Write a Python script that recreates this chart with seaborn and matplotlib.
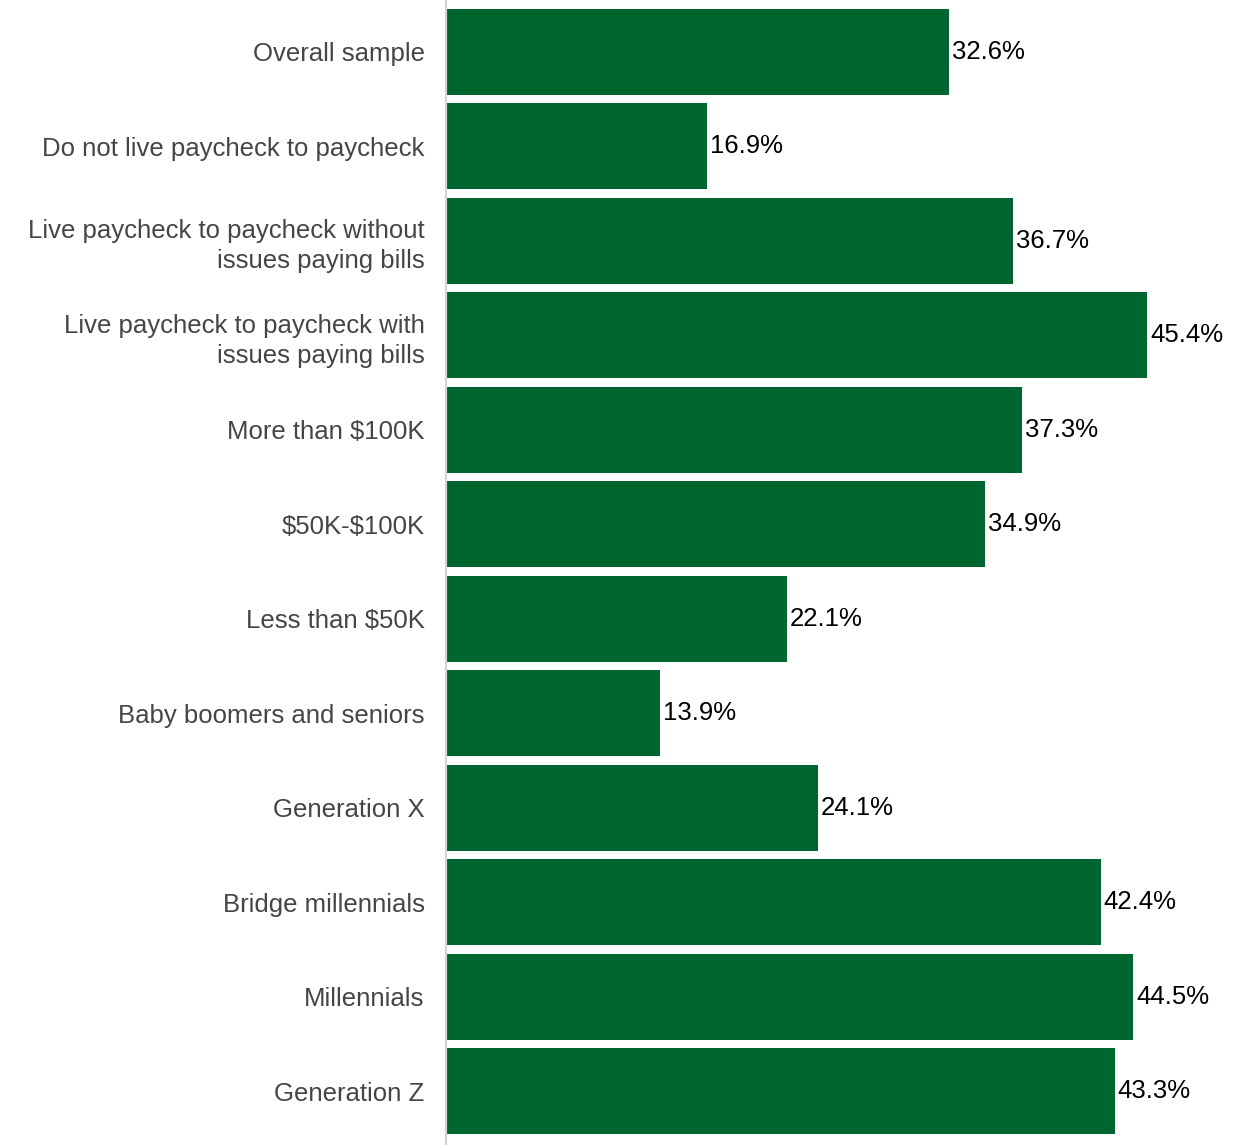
import matplotlib
matplotlib.use("Agg")
import matplotlib.pyplot as plt
import seaborn as sns
import pandas as pd

categories = [
    "Overall sample",
    "Do not live paycheck to paycheck",
    "Live paycheck to paycheck without\nissues paying bills",
    "Live paycheck to paycheck with\nissues paying bills",
    "More than $100K",
    "$50K-$100K",
    "Less than $50K",
    "Baby boomers and seniors",
    "Generation X",
    "Bridge millennials",
    "Millennials",
    "Generation Z",
]
values = [32.6, 16.9, 36.7, 45.4, 37.3, 34.9, 22.1, 13.9, 24.1, 42.4, 44.5, 43.3]

sns.set_theme(style="white")
plt.rcParams["font.family"] = ["Liberation Sans", "DejaVu Sans"]
plt.rcParams["text.parse_math"] = False

df = pd.DataFrame({"group": categories, "share": values})

fig = plt.figure(figsize=(12.49, 11.45), dpi=100)
ax = fig.add_axes([445.5 / 1249, 0.0, 1 - 445.5 / 1249, 1.0])

sns.barplot(data=df, y="group", x="share", orient="h", color="#006630",
            width=0.91, saturation=1, linewidth=0, ax=ax)

ax.set_xlim(0, 803.5 / 15.46)
ax.set_ylim(11.57, -0.55)
ax.set_xlabel("")
ax.set_ylabel("")
ax.set_xticks([])

for s in ["top", "right", "bottom"]:
    ax.spines[s].set_visible(False)
ax.spines["left"].set_color("#d3d3d3")
ax.spines["left"].set_linewidth(1.6)
ax.spines["left"].set_zorder(3)

ax.tick_params(axis="y", length=0, pad=15, labelsize=18.5, labelcolor="#454545")
for lbl in ax.get_yticklabels():
    lbl.set_linespacing(1.3)

ax.bar_label(ax.containers[0], labels=[f"{v:.1f}%" for v in values],
             padding=2, fontsize=18.5, color="black")

fig.savefig("out.png", dpi=100)
